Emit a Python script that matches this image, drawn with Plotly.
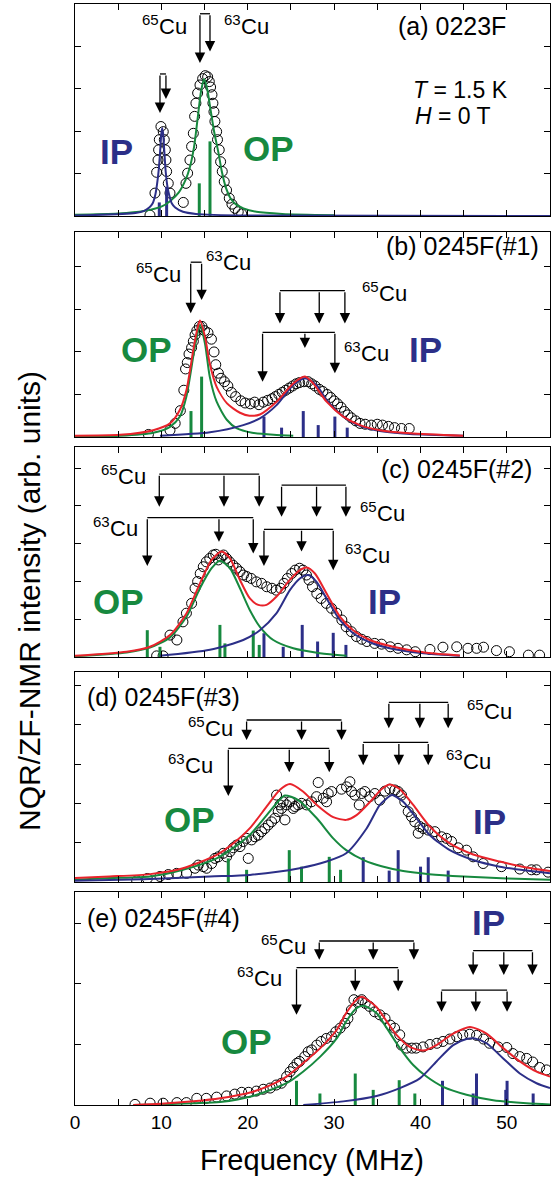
import plotly.graph_objects as go

FONT = "Liberation Sans, Arial, Helvetica, sans-serif"
GREEN = "#17893F"
NAVY = "#2C2F88"
RED = "#E8232B"

X_TICKS = list(range(0, 56, 5))
X_TICK_TEXT = [str(v) if v % 10 == 0 else "" for v in X_TICKS]
X_TITLE = "Frequency (MHz)"
Y_TITLE = "NQR/ZF-NMR intensity (arb. units)"

PANEL_LABELS = ["(a) 0223F", "(b) 0245F(#1)", "(c) 0245F(#2)", "(d) 0245F(#3)", "(e) 0245F(#4)"]
PANEL_YMAX = [5.0, 4.82, 5.56, 5.34, 3.52]

# ---------------- panel (a) ----------------
A_POINTS = [(8.68, 0.02), (9.26, 0.54), (9.45, 1.03), (9.61, 1.32), (9.68, 1.56), (9.76, 1.80),
            (9.95, 2.11), (10.22, 1.99), (10.34, 1.80), (10.46, 1.56), (10.53, 1.32), (10.61, 1.05),
            (10.80, 0.77), (11.0, 0.54), (12.54, 0.32), (12.85, 0.77), (13.04, 1.01), (13.31, 1.32),
            (13.50, 1.64), (13.70, 1.95), (13.85, 2.35), (14.0, 2.66), (14.2, 2.90), (14.47, 3.09),
            (14.78, 3.24), (15.08, 3.31), (15.36, 3.28), (15.55, 3.17), (15.70, 3.04), (15.86, 2.86),
            (15.97, 2.66), (16.09, 2.46), (16.2, 2.23), (16.4, 1.99), (16.5, 1.80), (16.7, 1.56),
            (16.86, 1.28), (17.05, 1.05), (17.28, 0.81), (17.55, 0.61), (17.86, 0.42), (18.17, 0.28),
            (18.52, 0.18), (18.9, 0.10), (19.3, 0.05)]
A_GREEN = [(0, 0.03), (5, 0.06), (8, 0.12), (10, 0.22), (11, 0.35), (12, 0.55), (12.8, 0.85),
           (13.3, 1.15), (13.8, 1.65), (14.2, 2.3), (14.6, 2.95), (14.95, 3.23), (15.3, 3.0),
           (15.7, 2.5), (16.1, 2.0), (16.6, 1.5), (17.0, 1.05), (17.5, 0.65), (18.0, 0.42),
           (18.6, 0.28), (19.5, 0.18), (21, 0.1), (24, 0.05), (30, 0.02)]
A_BLUE = [(0, 0.01), (7.0, 0.07), (8.0, 0.12), (8.6, 0.2), (9.0, 0.3), (9.3, 0.5), (9.5, 0.75),
          (9.7, 1.1), (9.85, 1.5), (10.0, 1.95), (10.1, 2.07), (10.2, 1.95), (10.35, 1.5),
          (10.5, 1.05), (10.7, 0.7), (10.9, 0.5), (11.2, 0.3), (11.6, 0.2), (12.5, 0.1),
          (14, 0.05), (20, 0.01), (55, 0.0)]
A_RED = []
A_GREEN_STICKS = [(14.39, 0.77), (15.63, 1.76)]
A_BLUE_STICKS = [(9.76, 0.32), (10.61, 0.69)]
A_BRACKETS = [([9.84, 10.53], 3.35, [2.43, 2.76]),
              ([14.47, 15.63], 4.77, [3.61, 3.88])]
A_CU_LABELS = [("65", 10.4, 4.47), ("63", 19.9, 4.47)]
A_OPIP = [("IP", 4.8, 1.52, NAVY), ("OP", 22.4, 1.6, GREEN)]
A_LABEL_POS = (43.6, 4.47, "center")

# ---------------- panel (b) ----------------
B_POINTS = [(8.5, 0.06), (11.0, 0.16), (11.6, 0.32), (12.2, 0.62), (12.6, 1.1), (12.8, 1.6), (13.0, 1.75),
            (13.2, 1.95), (13.5, 2.1), (13.7, 2.25), (13.9, 2.4), (14.1, 2.5), (14.4, 2.6),
            (14.7, 2.6), (15.0, 2.5), (15.4, 2.45), (15.8, 2.3), (16.1, 2.0), (16.3, 1.7),
            (16.6, 1.5), (16.9, 1.38), (17.3, 1.3), (17.7, 1.2), (18.1, 1.05), (18.6, 0.95),
            (19.2, 0.85), (19.7, 0.8), (20.3, 0.78), (20.8, 0.82), (21.3, 0.76), (21.8, 0.82),
            (22.3, 0.86), (22.8, 0.9), (23.2, 0.95), (23.6, 1.0), (24.0, 1.05), (24.4, 1.1),
            (24.8, 1.15), (25.2, 1.2), (25.6, 1.25), (26.0, 1.28), (26.5, 1.3), (27.0, 1.3),
            (27.4, 1.25), (27.8, 1.2), (28.3, 1.12), (28.7, 1.07), (29.2, 1.0), (29.6, 0.93),
            (30.0, 0.85), (30.4, 0.78), (30.8, 0.7), (31.2, 0.6), (31.6, 0.52), (32.0, 0.45),
            (32.5, 0.38), (33.0, 0.32), (33.6, 0.3), (34.3, 0.28), (35.0, 0.3), (35.6, 0.28),
            (36.3, 0.25), (37.0, 0.22), (37.8, 0.2), (38.7, 0.2)]
B_GREEN = [(0, 0.01), (5.2, 0.03), (9.06, 0.1), (11.0, 0.24), (12.15, 0.48), (12.9, 0.95),
           (13.7, 1.9), (14.1, 2.35), (14.47, 2.64), (15.05, 2.2), (15.6, 1.42), (16.4, 0.83),
           (17.6, 0.4), (18.75, 0.2), (20.5, 0.1), (23.0, 0.05), (25.27, 0.03)]
B_BLUE = [(9.84, 0.03), (15.63, 0.11), (19.48, 0.28), (21.41, 0.44), (23.34, 0.75), (25.27, 1.22),
          (26.62, 1.38), (27.97, 1.22), (29.13, 0.87), (31.06, 0.48), (32.99, 0.26), (35.3, 0.14),
          (38.77, 0.07), (44.95, 0.03)]
B_RED = [(0, 0.03), (5.2, 0.05), (9.06, 0.16), (11.0, 0.32), (12.15, 0.64), (12.9, 1.1),
         (13.7, 2.05), (14.1, 2.48), (14.47, 2.74), (15.05, 2.36), (15.6, 1.73), (16.4, 1.18),
         (17.6, 0.79), (19.1, 0.57), (20.2, 0.5), (21.41, 0.53), (23.34, 0.83),
         (25.27, 1.26), (26.62, 1.42), (27.58, 1.26), (29.13, 0.83), (31.06, 0.48), (32.99, 0.28),
         (35.3, 0.16), (38.77, 0.09), (44.95, 0.03)]
B_GREEN_STICKS = [(13.43, 0.61), (14.66, 1.42)]
B_BLUE_STICKS = [(21.88, 0.48), (23.92, 0.22), (26.43, 0.61), (28.16, 0.28), (30.09, 0.48), (31.52, 0.22)]
B_BRACKETS = [([13.4, 14.66], 4.11, [2.91, 3.22]),
              ([23.73, 28.28, 31.25], 3.44, [2.67, 2.67, 2.67]),
              ([21.72, 26.62, 30.09], 2.46, [1.3, 2.09, 1.5])]
B_CU_LABELS = [("65", 9.76, 3.81), ("63", 17.8, 4.11), ("65", 35.9, 3.38), ("63", 33.8, 1.97)]
B_OPIP = [("OP", 8.3, 2.05, GREEN), ("IP", 40.6, 2.05, NAVY)]
B_LABEL_POS = (53.9, 4.48, "right")

# ---------------- panel (c) ----------------
C_POINTS = [(9.45, 0.03), (10.2, 0.03), (11.0, 0.58), (11.8, 0.45), (12.5, 0.93), (12.9, 1.16),
            (13.5, 1.42), (13.9, 1.82), (14.2, 2.0), (14.5, 2.21), (14.85, 2.39), (15.2, 2.52),
            (15.6, 2.61), (16.0, 2.7), (16.3, 2.72), (16.6, 2.57), (16.9, 2.65), (17.2, 2.7),
            (17.55, 2.61), (17.9, 2.52), (18.3, 2.43), (18.7, 2.35), (19.1, 2.26), (19.5, 2.17),
            (19.9, 2.13), (20.4, 2.08), (21.0, 1.99), (21.6, 1.95), (22.2, 1.86), (22.8, 1.82),
            (23.3, 1.77), (23.8, 1.82), (24.2, 1.95), (24.6, 2.08), (25.1, 2.21), (25.5, 2.3),
            (26.0, 2.35), (26.4, 2.3), (26.8, 2.17), (27.1, 2.04), (27.5, 1.86), (28.0, 1.68),
            (28.5, 1.55), (29.1, 1.42), (29.7, 1.29), (30.3, 1.16), (30.9, 0.98), (31.4, 0.8),
            (32.0, 0.67), (32.6, 0.54), (33.2, 0.47), (33.8, 0.41), (34.7, 0.36), (35.5, 0.34),
            (36.5, 0.27), (37.4, 0.23), (38.4, 0.19), (39.4, 0.14), (41.1, 0.2), (42.6, 0.26),
            (44.2, 0.27), (45.5, 0.23), (46.5, 0.23), (47.3, 0.26), (48.8, 0.17), (50.3, 0.14),
            (52.5, 0.05), (53.8, 0.05)]
C_GREEN = [(0, 0.02), (5.98, 0.12), (8.68, 0.25), (11.0, 0.52), (12.92, 1.07), (14.47, 1.82),
           (15.82, 2.35), (16.78, 2.55), (17.94, 2.35), (19.1, 1.82), (20.25, 1.24), (21.41, 0.8),
           (22.96, 0.45), (25.27, 0.23), (28.36, 0.1), (31.44, 0.03)]
C_BLUE = [(9.84, 0.03), (15.63, 0.19), (19.48, 0.45), (21.41, 0.71), (23.34, 1.16), (24.88, 1.77),
          (26.04, 2.08), (27.0, 2.17), (27.97, 1.99), (29.13, 1.55), (30.67, 0.98), (32.21, 0.63),
          (34.14, 0.39), (36.84, 0.21), (40.7, 0.09), (44.56, 0.03)]
C_RED = [(0, 0.03), (5.98, 0.14), (8.68, 0.27), (11.0, 0.58), (12.92, 1.16), (14.47, 1.95),
         (15.82, 2.57), (16.98, 2.79), (17.94, 2.61), (19.1, 2.04), (20.25, 1.55), (21.22, 1.38),
         (22.18, 1.38), (23.34, 1.6), (24.88, 2.04), (26.04, 2.3), (26.81, 2.37), (27.78, 2.21),
         (29.13, 1.68), (30.67, 1.07), (32.21, 0.71), (34.14, 0.45), (36.84, 0.27), (40.7, 0.11),
         (44.56, 0.04)]
C_GREEN_STICKS = [(8.37, 0.71), (9.84, 0.27), (16.78, 0.85), (17.36, 0.36), (20.64, 0.7), (21.33, 0.32)]
C_BLUE_STICKS = [(21.88, 0.63), (24.11, 0.27), (26.31, 0.85), (28.09, 0.41), (29.9, 0.64), (31.37, 0.32)]
C_BRACKETS = [([9.76, 17.25, 21.33], 4.84, [3.98, 3.98, 3.98]),
              ([8.37, 16.67, 20.64], 3.69, [2.41, 3.05, 2.74]),
              ([23.92, 27.97, 31.37], 4.55, [3.71, 3.71, 3.71]),
              ([21.88, 26.23, 29.9], 3.38, [2.41, 2.79, 2.3])]
C_CU_LABELS = [("65", 5.63, 4.79), ("63", 4.7, 3.4), ("65", 35.7, 3.8), ("63", 33.95, 2.7)]
C_OPIP = [("OP", 5.0, 1.46, GREEN), ("IP", 35.8, 1.46, NAVY)]
C_LABEL_POS = (53.1, 4.99, "right")

# ---------------- panel (d) ----------------
D_POINTS = [(7.14, 0.03), (8.37, 0.09), (9.84, 0.14), (10.8, 0.19), (11.77, 0.22), (12.92, 0.22),
            (13.89, 0.35), (14.27, 0.43), (14.85, 0.39), (15.24, 0.35), (15.82, 0.47), (16.2, 0.6),
            (16.59, 0.64), (17.17, 0.73), (17.55, 0.64), (17.94, 0.77), (18.33, 0.87), (18.71, 0.94),
            (19.1, 0.9), (19.48, 1.03), (19.87, 1.11), (20.06, 0.6), (20.45, 1.07), (20.83, 1.15),
            (21.22, 1.19), (21.6, 1.28), (21.99, 1.36), (22.38, 1.45), (22.76, 1.53), (23.15, 1.62),
            (23.34, 2.21), (23.53, 1.79), (23.73, 1.96), (23.92, 1.87), (24.11, 2.04), (24.31, 1.58),
            (24.5, 1.96), (24.88, 2.04), (25.27, 1.87), (25.46, 1.92), (25.85, 1.96), (26.23, 2.0),
            (26.81, 1.96), (27.39, 2.04), (27.97, 2.17), (28.16, 2.53), (28.74, 2.13), (29.13, 2.04),
            (29.32, 2.25), (29.71, 2.3), (30.86, 2.36), (31.44, 2.42), (31.83, 2.55), (32.02, 2.3),
            (32.41, 2.21), (32.91, 1.96), (33.18, 2.25), (33.56, 2.3), (34.14, 2.17), (34.72, 2.25),
            (35.3, 2.08), (35.88, 2.31), (36.46, 2.36), (37.04, 2.34), (37.42, 2.3), (37.81, 2.21),
            (38.19, 2.04), (38.58, 1.79), (38.97, 1.66), (39.35, 1.53), (39.74, 1.24), (39.93, 1.41),
            (40.32, 1.36), (40.9, 1.32), (41.67, 1.28), (42.44, 1.15), (43.02, 1.11), (43.6, 1.03),
            (44.37, 0.87), (45.33, 0.81), (46.1, 0.64), (47.26, 0.47), (49.38, 0.39), (51.5, 0.33),
            (52.85, 0.31), (53.43, 0.31), (54.78, 0.25)]
D_GREEN = [(0, 0.06), (4.0, 0.1), (8.7, 0.14), (12.5, 0.31), (16.4, 0.6), (18.3, 0.86),
           (20.25, 1.2), (22.2, 1.7), (23.7, 2.09), (24.3, 2.2), (25.8, 2.09), (28.0, 1.62),
           (29.9, 1.11), (31.4, 0.81), (33.5, 0.55), (35.5, 0.4), (38.0, 0.28), (41.0, 0.2),
           (45.0, 0.14), (50.0, 0.09), (55, 0.06)]
D_BLUE = [(0, 0.03), (7.91, 0.07), (15.63, 0.14), (20.25, 0.18), (26.0, 0.35), (29.13, 0.52),
          (31.4, 0.73), (33.76, 1.36), (35.3, 1.96), (36.46, 2.19), (36.75, 2.21), (38.0, 2.04),
          (39.55, 1.62), (41.09, 1.19), (43.4, 0.81), (46.1, 0.56), (49.19, 0.39), (52.28, 0.29),
          (55, 0.22)]
D_RED = [(0, 0.1), (4.0, 0.14), (8.7, 0.2), (12.5, 0.35), (16.4, 0.69), (18.3, 0.98),
         (20.25, 1.37), (22.2, 1.92), (23.7, 2.34), (24.9, 2.49), (26.4, 2.3), (28.0, 1.96),
         (29.9, 1.65), (31.4, 1.58), (32.6, 1.7), (34.34, 2.08), (35.49, 2.36), (36.46, 2.48),
         (37.62, 2.36), (39.16, 1.96), (41.09, 1.41), (43.4, 0.98), (46.1, 0.7), (49.19, 0.52),
         (52.28, 0.37), (55, 0.28)]
D_GREEN_STICKS = [(17.75, 0.6), (19.87, 0.31), (24.81, 0.81), (26.23, 0.39), (29.44, 0.64), (30.75, 0.31)]
D_BLUE_STICKS = [(33.37, 0.63), (36.38, 0.29), (37.42, 0.81), (40.01, 0.39), (40.9, 0.63), (43.21, 0.29)]
D_BRACKETS = [([19.87, 26.23, 30.86], 4.12, [3.61, 3.61, 3.61]),
              ([17.75, 24.81, 29.44], 3.4, [2.19, 2.79, 2.79]),
              ([36.34, 39.93, 43.21], 4.57, [3.91, 3.91, 3.91]),
              ([33.37, 37.5, 40.9], 3.55, [2.97, 2.97, 2.97])]
D_CU_LABELS = [("65", 15.8, 3.91), ("63", 13.4, 2.97), ("65", 48.0, 4.33), ("63", 45.6, 3.06)]
D_OPIP = [("OP", 13.2, 1.58, GREEN), ("IP", 48.0, 1.53, NAVY)]
D_LABEL_POS = (1.16, 4.71, "left")

# ---------------- panel (e) ----------------
E_POINTS = [(6.95, 0.01), (8.7, 0.03), (10.2, 0.03), (11.8, 0.04), (12.9, 0.04), (14.1, 0.11),
            (15.2, 0.11), (16.4, 0.13), (17.55, 0.15), (18.5, 0.18), (19.3, 0.21), (20.1, 0.21),
            (21.0, 0.23), (21.8, 0.26), (22.6, 0.28), (23.3, 0.33), (23.9, 0.36), (24.5, 0.47),
            (24.9, 0.55), (25.3, 0.62), (25.7, 0.69), (26.0, 0.72), (26.6, 0.8), (27.0, 0.88),
            (27.4, 0.91), (28.0, 0.99), (28.5, 1.05), (29.1, 1.1), (29.7, 1.13), (30.2, 1.21),
            (30.7, 1.27), (31.25, 1.35), (31.6, 1.43), (32.0, 1.57), (32.3, 1.74), (32.8, 1.71),
            (33.2, 1.74), (33.6, 1.68), (34.1, 1.63), (34.7, 1.54), (35.3, 1.49), (35.9, 1.43),
            (36.5, 1.32), (37.0, 1.27), (37.6, 1.16), (37.8, 0.99), (38.4, 0.94), (39.0, 0.94),
            (39.5, 0.94), (40.3, 0.96), (41.1, 1.0), (41.9, 1.02), (42.6, 1.05), (43.4, 1.09),
            (44.2, 1.13), (44.9, 1.16), (45.7, 1.17), (46.5, 1.15), (47.3, 1.09), (48.0, 1.02),
            (49.0, 0.96), (50.0, 0.95), (50.7, 0.85), (51.5, 0.8), (52.3, 0.77), (53.0, 0.71),
            (53.8, 0.62), (54.6, 0.58)]
E_GREEN = [(6.75, 0.0), (10.0, 0.01), (13.7, 0.03), (16.8, 0.05), (20.6, 0.15), (24.5, 0.36),
           (26.4, 0.55), (28.4, 0.8), (30.3, 1.1), (31.4, 1.38), (32.6, 1.6), (33.4, 1.64),
           (34.9, 1.52), (36.1, 1.27), (37.62, 0.94), (39.16, 0.66), (40.7, 0.47), (42.63, 0.3),
           (45.33, 0.17), (48.42, 0.08), (52.28, 0.03), (55, 0.01)]
E_BLUE = [(26.43, 0.0), (31.06, 0.06), (34.92, 0.15), (37.62, 0.28), (39.93, 0.44), (41.86, 0.72),
          (43.79, 0.99), (45.33, 1.09), (46.3, 1.1), (47.65, 1.02), (49.58, 0.77), (51.51, 0.52),
          (53.44, 0.36), (55, 0.28)]
E_RED = [(6.75, 0.0), (10.0, 0.02), (13.7, 0.06), (16.8, 0.11), (20.6, 0.22), (22.5, 0.32),
         (24.5, 0.47), (26.4, 0.69), (28.4, 0.94), (30.3, 1.24), (31.4, 1.52), (32.6, 1.74),
         (33.2, 1.79), (34.9, 1.62), (36.1, 1.38), (37.23, 1.16), (38.77, 0.96), (40.32, 0.9),
         (41.86, 0.99), (43.79, 1.18), (45.72, 1.29), (47.65, 1.18), (49.58, 0.94), (51.51, 0.72),
         (53.44, 0.55), (55, 0.47)]
E_GREEN_STICKS = [(25.65, 0.4), (28.36, 0.19), (32.45, 0.52), (34.53, 0.25), (37.54, 0.41), (39.35, 0.19)]
E_BLUE_STICKS = [(42.55, 0.4), (46.1, 0.19), (46.49, 0.52), (49.88, 0.25), (50.03, 0.4), (53.05, 0.19)]
E_BRACKETS = [([28.28, 34.53, 39.24], 2.71, [2.4, 2.4, 2.4]),
              ([25.65, 32.45, 37.42], 2.27, [1.49, 1.88, 1.88]),
              ([46.1, 49.65, 52.97], 2.55, [2.15, 2.15, 2.15]),
              ([42.44, 46.41, 50.03], 1.9, [1.54, 1.54, 1.54])]
E_CU_LABELS = [("65", 24.2, 2.62), ("63", 21.45, 2.09)]
E_OPIP = [("OP", 19.9, 1.05, GREEN), ("IP", 47.9, 3.02, NAVY)]
E_LABEL_POS = (1.16, 3.09, "left")

CONDITIONS = [("<i>T</i> = 1.5 K", 44.6, 2.98), ("<i>H</i> = 0 T", 43.8, 2.35)]

PANELS = [
    (A_POINTS, A_GREEN, A_BLUE, A_RED, A_GREEN_STICKS, A_BLUE_STICKS, A_BRACKETS, A_CU_LABELS, A_OPIP, A_LABEL_POS),
    (B_POINTS, B_GREEN, B_BLUE, B_RED, B_GREEN_STICKS, B_BLUE_STICKS, B_BRACKETS, B_CU_LABELS, B_OPIP, B_LABEL_POS),
    (C_POINTS, C_GREEN, C_BLUE, C_RED, C_GREEN_STICKS, C_BLUE_STICKS, C_BRACKETS, C_CU_LABELS, C_OPIP, C_LABEL_POS),
    (D_POINTS, D_GREEN, D_BLUE, D_RED, D_GREEN_STICKS, D_BLUE_STICKS, D_BRACKETS, D_CU_LABELS, D_OPIP, D_LABEL_POS),
    (E_POINTS, E_GREEN, E_BLUE, E_RED, E_GREEN_STICKS, E_BLUE_STICKS, E_BRACKETS, E_CU_LABELS, E_OPIP, E_LABEL_POS),
]

# layout geometry (pixels)
W, H = 554, 1178
M_L, M_R, M_T, M_B = 75, 4, 4, 73
PANEL_PIX = [(4, 216), (232, 437), (447, 657), (672, 882), (892, 1105)]
plot_h = H - M_T - M_B


def dom(top, bot):
    return [(H - M_B - bot) / plot_h, (H - M_B - top) / plot_h]


def sticks(data):
    xs, ys = [], []
    for x, h in data:
        xs += [x, x, None]
        ys += [0, h, None]
    return xs, ys


fig = go.Figure()
annotations = []
layout = {}

for i, (pts, green, blue, red, gst, bst, brackets, cul, opip, lpos) in enumerate(PANELS):
    s = "" if i == 0 else str(i + 1)
    xr, yr = "x" + s, "y" + s
    # data points
    fig.add_trace(go.Scatter(x=[p[0] for p in pts], y=[p[1] for p in pts], mode="markers",
                             marker=dict(symbol="circle-open", size=10, color="black", line=dict(width=1)),
                             xaxis=xr, yaxis=yr, showlegend=False, hoverinfo="skip"))
    # sticks
    for st, col in ((gst, GREEN), (bst, NAVY)):
        sx, sy = sticks(st)
        fig.add_trace(go.Scatter(x=sx, y=sy, mode="lines", line=dict(color=col, width=3),
                                 xaxis=xr, yaxis=yr, showlegend=False, hoverinfo="skip"))
    # fit curves
    for cur, col in ((green, GREEN), (blue, NAVY), (red, RED)):
        if not cur:
            continue
        fig.add_trace(go.Scatter(x=[p[0] for p in cur], y=[p[1] for p in cur], mode="lines",
                                 line=dict(color=col, width=2, shape="spline", smoothing=0.7),
                                 xaxis=xr, yaxis=yr, showlegend=False, hoverinfo="skip"))
    # brackets + arrows
    for xs, top, tips in brackets:
        fig.add_trace(go.Scatter(x=[min(xs), max(xs)], y=[top, top], mode="lines",
                                 line=dict(color="black", width=1.3),
                                 xaxis=xr, yaxis=yr, showlegend=False, hoverinfo="skip"))
        for xv, tv in zip(xs, tips):
            annotations.append(dict(x=xv, y=tv, ax=xv, ay=top, xref=xr, yref=yr, axref=xr, ayref=yr,
                                    showarrow=True, arrowhead=2, arrowsize=1.6, arrowwidth=1.3,
                                    arrowcolor="black", text="", standoff=0))
    # isotope labels: superscript mass number + "Cu"
    for mass, xv, yv in cul:
        annotations.append(dict(x=xv, y=yv, xref=xr, yref=yr, text="Cu", showarrow=False,
                                xanchor="left", xshift=-8,
                                font=dict(family=FONT, size=22, color="black")))
        annotations.append(dict(x=xv, y=yv, xref=xr, yref=yr, text=mass, showarrow=False,
                                xanchor="right", xshift=-4, yshift=7,
                                font=dict(family=FONT, size=15, color="black")))
    for txt, xv, yv, col in opip:
        annotations.append(dict(x=xv, y=yv, xref=xr, yref=yr, text="<b>" + txt + "</b>", showarrow=False,
                                font=dict(family=FONT, size=35, color=col)))
    lx, ly, la = lpos
    annotations.append(dict(x=lx, y=ly, xref=xr, yref=yr, text=PANEL_LABELS[i], showarrow=False,
                            xanchor=la, font=dict(family=FONT, size=25, color="black")))
    if i == 0:
        for txt, xv, yv in CONDITIONS:
            annotations.append(dict(x=xv, y=yv, xref=xr, yref=yr, text=txt, showarrow=False,
                                    font=dict(family=FONT, size=23, color="black")))

    top_px, bot_px = PANEL_PIX[i]
    layout["xaxis" + s] = dict(domain=[0, 1], range=[0, 55], anchor=yr,
                               tickmode="array", tickvals=X_TICKS, ticktext=X_TICK_TEXT,
                               ticks="inside", ticklen=6, tickwidth=1, tickcolor="black",
                               showticklabels=(i == 4), showline=True, linecolor="black", linewidth=1.2,
                               mirror="ticks", showgrid=False, zeroline=False,
                               tickfont=dict(family=FONT, size=19, color="black"))
    if i > 0:
        layout["xaxis" + s]["matches"] = "x"
    ymax = PANEL_YMAX[i]
    layout["yaxis" + s] = dict(domain=dom(top_px, bot_px), range=[0, ymax], anchor=xr,
                               tickmode="array", tickvals=list(range(1, int(ymax) + 1)),
                               ticks="inside", ticklen=6, tickwidth=1, tickcolor="black",
                               showticklabels=False, showline=True, linecolor="black", linewidth=1.2,
                               mirror="ticks", showgrid=False, zeroline=False)

# axis titles
annotations.append(dict(x=(312 - M_L) / (W - M_L - M_R), y=(H - M_B - 1160) / plot_h, xref="paper", yref="paper",
                        text=X_TITLE, showarrow=False, xanchor="center", yanchor="middle",
                        font=dict(family=FONT, size=29, color="black")))
annotations.append(dict(x=(29 - M_L) / (W - M_L - M_R), y=(H - M_B - 601) / plot_h, xref="paper", yref="paper",
                        text=Y_TITLE, showarrow=False, textangle=-90, xanchor="center", yanchor="middle",
                        font=dict(family=FONT, size=30, color="black")))

fig.update_layout(width=W, height=H, margin=dict(l=M_L, r=M_R, t=M_T, b=M_B),
                  paper_bgcolor="white", plot_bgcolor="white", showlegend=False,
                  annotations=annotations, **layout)

fig.write_html("out.html", config={"displayModeBar": False},
               post_script="document.body.style.margin='0';document.body.style.overflow='hidden';")
